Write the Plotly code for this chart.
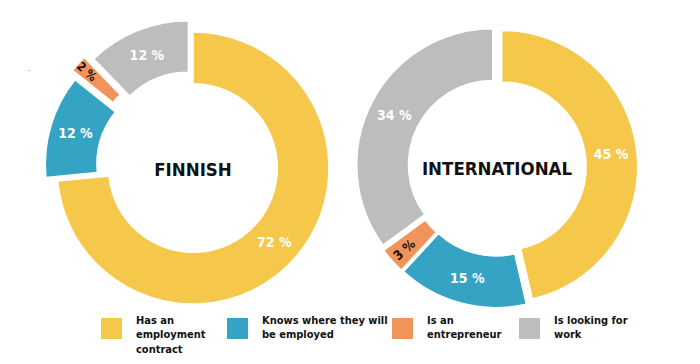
import plotly.graph_objects as go

categories = ["Has an employment contract", "Knows where they will be employed",
              "Is an entrepreneur", "Is looking for work"]
legend_labels = ["Has an<br>employment<br>contract", "Knows where they will<br>be employed",
                 "Is an<br>entrepreneur", "Is looking for<br>work"]
colors = ["#F5C84C", "#35A3C3", "#F0945C", "#BDBDBD"]

finnish_values = [72, 12, 2, 12]
international_values = [45, 15, 3, 34]

finnish_pull = [0.0, 0.09, 0.14, 0.09]
international_pull = [0.035, 0.035, 0.035, 0.035]

W, H = 700, 364
FONT = "DejaVu Sans Condensed, Liberation Sans Narrow, sans-serif"


def px_domain(cx, cy, r, maxpull):
    half = r * (1 + maxpull)
    return dict(x=[(cx - half) / W, (cx + half) / W],
                y=[1 - (cy + half) / H, 1 - (cy - half) / H])


dom_f = px_domain(193, 168, 136, max(finnish_pull))
dom_i = px_domain(497, 167, 136, max(international_pull))


def main_trace(values, pull, dom, title):
    text = [f"{v} %" for v in values]
    return go.Pie(
        labels=categories, values=values, sort=False, direction="clockwise",
        rotation=0, hole=0.62, pull=pull, domain=dom,
        marker=dict(colors=colors, line=dict(color="white", width=1.5)),
        text=text, textinfo="text",
        textposition=["inside", "inside", "none", "inside"],
        insidetextorientation="horizontal",
        textfont=dict(family=FONT, size=14, color="white", weight="bold"),
        title=dict(text=title, position="middle center",
                   font=dict(family=FONT, size=18.5, color="#111111", weight="bold")),
        hoverinfo="label+value", showlegend=False,
    )


def overlay_trace(values, pull, dom):
    text = [f"{v} %" if i == 2 else "" for i, v in enumerate(values)]
    return go.Pie(
        labels=categories, values=values, sort=False, direction="clockwise",
        rotation=0, hole=0.62, pull=pull, domain=dom,
        marker=dict(colors=["rgba(0,0,0,0)"] * 4, line=dict(width=0)),
        text=text, textinfo="text", textposition="inside",
        insidetextorientation="radial",
        textfont=dict(family=FONT, size=13, color="#111111", weight="bold"),
        hoverinfo="skip", showlegend=False,
    )


fig = go.Figure([
    main_trace(finnish_values, finnish_pull, dom_f, "FINNISH"),
    overlay_trace(finnish_values, finnish_pull, dom_f),
    main_trace(international_values, international_pull, dom_i, "INTERNATIONAL"),
    overlay_trace(international_values, international_pull, dom_i),
])

# custom legend
sq_x = [101, 227, 392, 519]
shapes, annotations = [], []
for x0, col, lab in zip(sq_x, colors, legend_labels):
    shapes.append(dict(type="rect", xref="paper", yref="paper",
                       x0=x0 / W, x1=(x0 + 21) / W, y0=1 - 339 / H, y1=1 - 318 / H,
                       fillcolor=col, line=dict(width=0)))
    annotations.append(dict(xref="paper", yref="paper", x=(x0 + 33) / W, y=1 - 312 / H,
                            xanchor="left", yanchor="top", align="left", showarrow=False,
                            text=lab,
                            font=dict(family=FONT, size=11, color="#111111", weight="bold")))

annotations.append(dict(xref="paper", yref="paper", x=26 / W, y=1 - 61 / H, text="-",
                        showarrow=False, font=dict(size=8, color="#777777")))

fig.update_layout(width=W, height=H, margin=dict(l=0, r=0, t=0, b=0),
                  paper_bgcolor="white", plot_bgcolor="white",
                  shapes=shapes, annotations=annotations, showlegend=False)

fig.write_html("out.html", config={"displayModeBar": False},
               post_script="document.body.style.margin='0';document.body.style.padding='0';")
